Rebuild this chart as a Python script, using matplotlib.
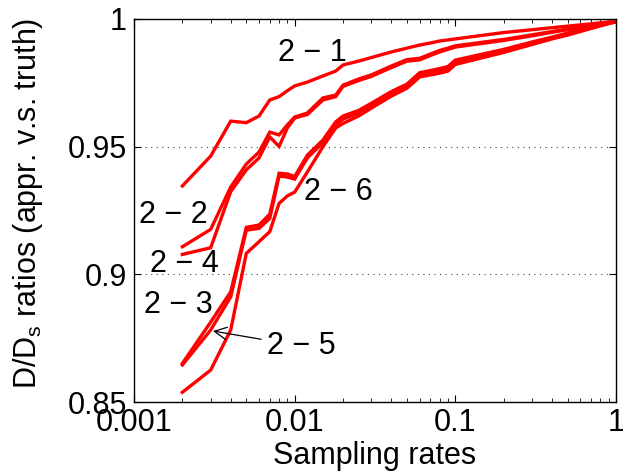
import matplotlib
matplotlib.use("Agg")
import matplotlib.pyplot as plt
from matplotlib.ticker import FixedLocator, NullFormatter, LogLocator

plt.rcParams['font.family'] = ['Liberation Sans', 'DejaVu Sans']
plt.rcParams['mathtext.fontset'] = 'custom'
plt.rcParams['mathtext.rm'] = 'Liberation Sans'
plt.rcParams['mathtext.it'] = 'Liberation Sans:italic'

# sampling rates
rates = [0.002, 0.003, 0.004, 0.005, 0.006, 0.007, 0.008, 0.009,
         0.01, 0.012, 0.015, 0.018, 0.02, 0.025, 0.03, 0.04, 0.05,
         0.06, 0.07, 0.08, 0.09, 0.1, 0.2, 0.3, 0.4, 0.5, 0.6, 0.7,
         0.8, 0.9, 1.0]

r_2_1 = [0.9346, 0.9463, 0.9600, 0.9594, 0.9620, 0.9683, 0.9696, 0.9719,
         0.9738, 0.9753, 0.9777, 0.9796, 0.9820, 0.9835, 0.9849, 0.9871, 0.9886,
         0.9898, 0.9906, 0.9914, 0.9918, 0.9922, 0.9947, 0.9958, 0.9966, 0.9972,
         0.9977, 0.9981, 0.9985, 0.9988, 0.9989]

r_2_2 = [0.9108, 0.9176, 0.9342, 0.9432, 0.9479, 0.9557, 0.9546, 0.9585,
         0.9616, 0.9632, 0.9691, 0.9702, 0.9741, 0.9765, 0.9781, 0.9816, 0.9841,
         0.9846, 0.9863, 0.9877, 0.9886, 0.9895, 0.9920, 0.9938, 0.9951, 0.9961,
         0.9969, 0.9975, 0.9981, 0.9986, 0.9989]

r_2_4 = [0.9078, 0.9104, 0.9324, 0.9409, 0.9456, 0.9538, 0.9501, 0.9573,
         0.9612, 0.9626, 0.9683, 0.9696, 0.9736, 0.9759, 0.9775, 0.9810, 0.9835,
         0.9840, 0.9857, 0.9871, 0.9881, 0.9890, 0.9916, 0.9934, 0.9948, 0.9958,
         0.9966, 0.9973, 0.9979, 0.9985, 0.9989]

r_2_3 = [0.8651, 0.8813, 0.8932, 0.9184, 0.9193, 0.9236, 0.9396, 0.9393,
         0.9383, 0.9467, 0.9526, 0.9597, 0.9620, 0.9642, 0.9670, 0.9716, 0.9745,
         0.9790, 0.9798, 0.9806, 0.9814, 0.9839, 0.9881, 0.9910, 0.9929, 0.9945,
         0.9957, 0.9967, 0.9976, 0.9984, 0.9989]

r_2_5 = [0.8645, 0.8782, 0.8912, 0.9173, 0.9180, 0.9219, 0.9385, 0.9381,
         0.9373, 0.9456, 0.9516, 0.9585, 0.9608, 0.9632, 0.9659, 0.9706, 0.9736,
         0.9781, 0.9788, 0.9796, 0.9804, 0.9832, 0.9875, 0.9904, 0.9926, 0.9941,
         0.9954, 0.9965, 0.9975, 0.9983, 0.9989]

r_2_6 = [0.8538, 0.8625, 0.8782, 0.9082, 0.9128, 0.9167, 0.9278, 0.9307,
         0.9322, 0.9401, 0.9500, 0.9573, 0.9591, 0.9620, 0.9651, 0.9698, 0.9729,
         0.9773, 0.9781, 0.9788, 0.9796, 0.9822, 0.9869, 0.9900, 0.9922, 0.9937,
         0.9951, 0.9963, 0.9973, 0.9982, 0.9989]

series = [r_2_1, r_2_2, r_2_4, r_2_3, r_2_5, r_2_6]

labels = ["2 \u2212 1", "2 \u2212 2", "2 \u2212 4", "2 \u2212 3", "2 \u2212 5", "2 \u2212 6"]
label_pos = [(0.0128, 0.9867), (0.00175, 0.9232), (0.00205, 0.9040),
             (0.0019, 0.8880), (0.01095, 0.8719), (0.0186, 0.9322)]
arrow_target = (0.0031, 0.8778)   # for "2 - 5"

xticks = [0.001, 0.01, 0.1, 1]
xtick_labels = ["0.001", "0.01", "0.1", "1"]
yticks = [0.85, 0.9, 0.95, 1.0]
ytick_labels = ["0.85", "0.9", "0.95", "1"]

fig = plt.figure(figsize=(6.23, 4.71), dpi=100)
ax = fig.add_axes([134/623, 1 - 402/471, (616-134)/623, (402-19)/471])

for s in series:
    ax.plot(rates, s, color='#ff0000', lw=2.4, solid_joinstyle='miter')

ax.set_xscale('log')
ax.set_xlim(0.001, 1)
ax.set_ylim(0.85, 1.0)
ax.xaxis.set_major_locator(FixedLocator(xticks))
ax.set_xticklabels(xtick_labels)
ax.xaxis.set_minor_locator(LogLocator(base=10, subs=range(2, 10)))
ax.xaxis.set_minor_formatter(NullFormatter())
ax.set_yticks(yticks)
ax.set_yticklabels(ytick_labels)

ax.tick_params(axis='both', which='both', direction='in', top=True, right=True,
               labelsize=22, color='black')
ax.tick_params(axis='both', which='major', length=5, width=0.8)
ax.tick_params(axis='both', which='minor', length=3, width=0.6)
ax.tick_params(axis='x', pad=4.5)
ax.tick_params(axis='y', pad=5)

for y in [0.9, 0.95]:
    ax.axhline(y, color='#444444', lw=0.8, ls=(0, (1, 4)), zorder=0)

for sp in ax.spines.values():
    sp.set_linewidth(1.0)

ax.set_xlabel("Sampling rates", fontsize=22, labelpad=2)
ax.set_ylabel(r"D/D$_\mathrm{s}$ ratios (appr. v.s. truth)", fontsize=22, labelpad=2)
ax.yaxis.set_label_coords(-0.185, 0.52)

for i, (lab, pos) in enumerate(zip(labels, label_pos)):
    if lab.endswith("5"):
        ax.annotate(lab, xy=arrow_target, xytext=pos, fontsize=22,
                    ha='center', va='center',
                    arrowprops=dict(arrowstyle='->', color='black', lw=0.9,
                                    shrinkA=2, shrinkB=0))
    else:
        ax.text(pos[0], pos[1], lab, fontsize=22, ha='center', va='center')

fig.savefig("out.png", dpi=100)
